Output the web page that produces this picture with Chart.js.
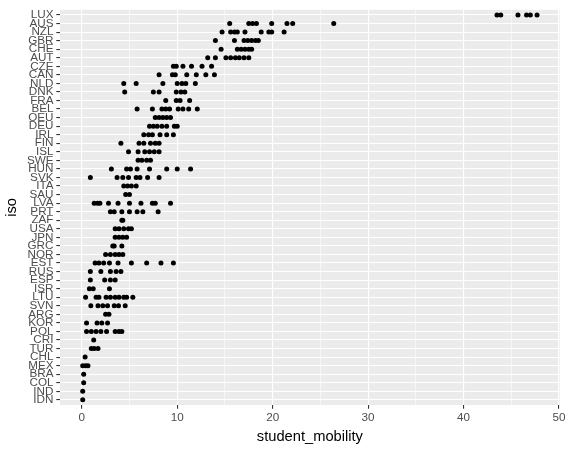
<!DOCTYPE html>
<html>
<head>
<meta charset="utf-8">
<script src="https://cdn.jsdelivr.net/npm/chart.js@4"></script>
<style>
html,body{margin:0;padding:0;background:#fff;}
#wrap{width:568px;height:450px;position:relative;}
</style>
</head>
<body>
<div id="wrap"><canvas id="c" width="568" height="450"></canvas></div>
<script>
const iso = ["LUX","AUS","NZL","GBR","CHE","AUT","CZE","CAN","NLD","DNK","FRA","BEL","OEU","DEU","IRL","FIN","ISL","SWE","HUN","SVK","ITA","SAU","LVA","PRT","ZAF","USA","JPN","GRC","NOR","EST","RUS","ESP","ISR","LTU","SVN","ARG","KOR","POL","CRI","TUR","CHL","MEX","BRA","COL","IND","IDN"];

const studentMobility = [
  [43.5, 43.9, 45.7, 46.6, 47.0, 47.7],
  [15.5, 17.5, 17.9, 18.3, 19.9, 21.5, 22.1, 26.4],
  [14.7, 15.6, 16.0, 16.3, 17.1, 18.8, 19.6, 19.9, 21.2],
  [14.0, 16.0, 17.0, 17.4, 17.8, 18.2, 18.5],
  [14.6, 16.3, 16.7, 17.1, 17.5, 17.8],
  [13.2, 14.0, 15.1, 15.6, 16.1, 16.5, 17.0, 17.5],
  [9.6, 9.9, 10.6, 11.5, 12.6, 13.6],
  [8.1, 9.5, 9.8, 11.0, 12.0, 13.0, 13.9],
  [4.4, 5.7, 8.5, 10.0, 10.5, 10.9, 11.9],
  [4.5, 7.5, 8.1, 9.9, 10.4, 10.8],
  [8.8, 9.9, 10.3, 11.3],
  [5.8, 7.4, 8.4, 8.8, 9.2, 10.1, 10.6, 11.2, 12.1],
  [7.7, 8.1, 8.5, 8.9, 9.3],
  [7.1, 7.5, 7.9, 8.4, 8.9, 9.7, 10.0],
  [6.5, 7.0, 7.4, 8.2, 8.9, 9.6],
  [4.1, 6.0, 6.5, 7.2, 7.7, 8.1],
  [4.9, 5.9, 6.6, 7.1, 7.6, 8.1],
  [5.9, 6.3, 6.8, 7.2],
  [3.1, 4.7, 5.1, 5.8, 7.1, 8.9, 10.0, 11.4],
  [0.9, 3.7, 4.3, 4.9, 5.7, 6.1, 6.9, 8.1],
  [4.4, 4.8, 5.2, 5.7],
  [4.6, 5.0],
  [1.3, 1.65, 1.9, 2.8, 3.8, 5.0, 6.2, 7.4, 7.7, 9.3],
  [3.0, 3.4, 4.2, 5.0, 5.8, 6.4, 8.0],
  [4.2, 4.3],
  [3.5, 3.9, 4.4, 4.9, 5.2],
  [3.5, 3.9, 4.3, 4.7],
  [3.25, 3.4, 4.2],
  [2.5, 3.0, 3.5, 3.9, 4.3],
  [1.4, 1.8, 2.3, 2.9, 3.8, 5.2, 6.8, 8.3, 9.6],
  [0.9, 2.0, 3.0, 3.6, 4.1],
  [0.9, 2.4, 3.0, 3.5],
  [0.8, 1.2, 2.9],
  [0.4, 1.5, 1.8, 2.55, 3.0, 3.5, 3.9, 4.4, 4.7, 5.35],
  [0.95, 1.7, 2.2, 2.7, 3.4, 3.85, 4.55],
  [2.5, 2.85],
  [0.5, 1.6, 2.1, 2.7],
  [0.5, 1.0, 1.5, 2.0, 2.6, 3.5, 3.9, 4.2],
  [1.25],
  [1.0, 1.3, 1.7],
  [0.35],
  [0.1, 0.4, 0.65],
  [0.2],
  [0.2],
  [0.1],
  [0.1]
];

const xTickLabels = [0, 10, 20, 30, 40, 50];
const xMinorTicks = [5, 15, 25, 35, 45];
const xTitle = "student_mobility";
const yTitle = "iso";

const points = [];
iso.forEach((code, i) => {
  studentMobility[i].forEach(v => points.push({x: v, y: i}));
});

const panelBg = {
  id: 'panelBg',
  beforeDraw(chart) {
    const {ctx, chartArea: a} = chart;
    ctx.save();
    ctx.fillStyle = '#EBEBEB';
    ctx.fillRect(a.left, a.top, a.right - a.left, a.bottom - a.top);
    ctx.restore();
  }
};

const FONT = "'Liberation Sans', Arial, sans-serif";

new Chart(document.getElementById('c'), {
  type: 'scatter',
  data: {
    datasets: [{
      data: points,
      backgroundColor: '#000',
      borderWidth: 0,
      pointRadius: 2.5,
      pointHoverRadius: 2.5
    }]
  },
  options: {
    responsive: false,
    animation: false,
    events: [],
    layout: {padding: {left: 0, right: 8, top: 6, bottom: 0}},
    plugins: {legend: {display: false}, tooltip: {enabled: false}},
    scales: {
      x: {
        type: 'linear',
        min: -2.28,
        max: 50.08,
        afterBuildTicks(scale) {
          const all = xTickLabels.concat(xMinorTicks).sort((a, b) => a - b);
          scale.ticks = all.map(v => ({value: v}));
        },
        afterFit(scale) { scale.height = 45; },
        border: {display: false},
        grid: {
          color: '#FFFFFF',
          lineWidth: c => (c.tick && xTickLabels.includes(c.tick.value)) ? 1.1 : 0.55,
          tickColor: c => (c.tick && xTickLabels.includes(c.tick.value)) ? '#333333' : 'rgba(0,0,0,0)',
          tickLength: 3.7,
          tickWidth: 1.1
        },
        ticks: {
          autoSkip: false,
          maxRotation: 0,
          padding: 2.5,
          color: '#4D4D4D',
          font: {family: FONT, size: 11.7},
          callback: v => xTickLabels.includes(v) ? String(v) : ''
        },
        title: {
          display: true,
          text: xTitle,
          color: '#000',
          font: {family: FONT, size: 14.7},
          padding: {top: 0, bottom: 4}
        }
      },
      y: {
        type: 'linear',
        reverse: true,
        min: -0.6,
        max: iso.length - 1 + 0.6,
        afterBuildTicks(scale) {
          scale.ticks = iso.map((c, i) => ({value: i}));
        },
        afterFit(scale) { scale.width = 60; },
        border: {display: false},
        grid: {
          color: '#FFFFFF',
          lineWidth: 1.1,
          tickColor: '#333333',
          tickLength: 3.7,
          tickWidth: 1.1
        },
        ticks: {
          autoSkip: false,
          padding: 2.8,
          color: '#4D4D4D',
          font: {family: FONT, size: 11.7},
          callback: v => iso[v]
        },
        title: {
          display: true,
          text: yTitle,
          color: '#000',
          font: {family: FONT, size: 14.7},
          padding: {top: 3, bottom: 0}
        }
      }
    }
  },
  plugins: [panelBg]
});
</script>
</body>
</html>
